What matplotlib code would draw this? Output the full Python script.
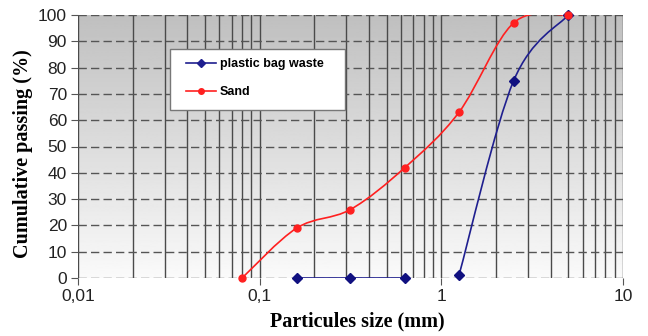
import numpy as np
import matplotlib
matplotlib.use('Agg')
import matplotlib.pyplot as plt
from matplotlib.path import Path
from matplotlib.patches import PathPatch, Rectangle
from matplotlib.lines import Line2D

# sieve sizes (mm) and cumulative passing (%)
plastic_size = [0.16, 0.315, 0.63, 1.25, 2.5, 5.0]
plastic_pass = [0, 0, 0, 1, 75, 100]
sand_size = [0.08, 0.16, 0.315, 0.63, 1.25, 2.5, 5.0]
sand_pass = [0, 19, 26, 42, 63, 97, 100]

xticks = [0.01, 0.1, 1, 10]
xticklabels = ['0,01', '0,1', '1', '10']
yticks = list(range(0, 101, 10))


def smooth_path(xs, ys):
    # excel-like smoothed line: bezier segments, controls from neighbours (log x)
    lx = np.log10(xs)
    ys = np.asarray(ys, float)
    n = len(lx)
    verts = [(xs[0], ys[0])]
    codes = [Path.MOVETO]
    for i in range(n - 1):
        i0, i3 = max(i - 1, 0), min(i + 2, n - 1)
        c1 = (lx[i] + (lx[i + 1] - lx[i0]) / 6, ys[i] + (ys[i + 1] - ys[i0]) / 6)
        c2 = (lx[i + 1] - (lx[i3] - lx[i]) / 6, ys[i + 1] - (ys[i3] - ys[i]) / 6)
        verts += [(10 ** c1[0], c1[1]), (10 ** c2[0], c2[1]), (xs[i + 1], ys[i + 1])]
        codes += [Path.CURVE4] * 3
    return Path(verts, codes)


fig = plt.figure(figsize=(6.48, 3.36), dpi=100)
ax = fig.add_axes([78/648, 1-278/336, 545/648, 263/336])
ax.set_xscale('log')
ax.set_xlim(0.01, 10)
ax.set_ylim(0, 100)

# grey gradient background
grad = np.linspace(0.98, 0.75, 256).reshape(-1, 1)
ax.imshow(grad, cmap='gray', vmin=0, vmax=1, aspect='auto', extent=[0, 1, 0, 1],
          transform=ax.transAxes, zorder=0, origin='lower')

ax.set_xticks(xticks)
ax.set_xticklabels(xticklabels)
ax.set_yticks(yticks)
ax.grid(True, which='both', axis='x', color='#4a4a4a', lw=1.0, ls='-', zorder=1)
ax.grid(True, which='major', axis='y', color='#555555', lw=1.0, ls=(0, (6, 3)), zorder=1)
ax.set_axisbelow(True)
for s in ax.spines.values():
    s.set_visible(False)
ax.tick_params(axis='both', which='major', length=5, color='#555555',
               labelsize=12.5, pad=3)
ax.tick_params(axis='x', which='minor', length=0)
for lab in ax.get_xticklabels() + ax.get_yticklabels():
    lab.set_family('Liberation Sans')
    lab.set_color('#222222')

blue = '#1f1f8f'
red = '#ff2020'

# plastic line is not drawn between 0.63 and 1.25
ax.add_patch(PathPatch(smooth_path(plastic_size[:3], plastic_pass[:3]), fill=False,
                       edgecolor=blue, lw=1.2, zorder=3))
ax.add_patch(PathPatch(smooth_path(plastic_size[3:], plastic_pass[3:]), fill=False,
                       edgecolor=blue, lw=1.2, zorder=3))
ax.add_patch(PathPatch(smooth_path(sand_size, sand_pass), fill=False,
                       edgecolor=red, lw=1.2, zorder=3))
ax.plot(plastic_size, plastic_pass, ls='none', marker='D', ms=5, color='#101080',
        zorder=4, clip_on=False)
ax.plot(sand_size, sand_pass, ls='none', marker='o', ms=5, color=red,
        zorder=4, clip_on=False)

ax.set_xlabel('Particules size (mm)', family='Liberation Serif', weight='bold',
              fontsize=14.5)
ax.set_ylabel('Cumulative passing (%)', family='Liberation Serif', weight='bold',
              fontsize=14.5)
ax.xaxis.set_label_coords((357 - 78) / 545, -(311 - 278) / 263)
ax.yaxis.set_label_coords(-(78 - 33) / 545, (278 - 154) / 263)

# legend box
x0 = (170 - 78) / 545
y0 = (278 - 110) / 263
ax.add_patch(Rectangle((x0, y0), 175 / 545, 61 / 263, transform=ax.transAxes,
                       facecolor='white', edgecolor='#777777', lw=1.0, zorder=5))
handles = [Line2D([], [], color=blue, marker='D', ms=4, lw=1.2),
           Line2D([], [], color=red, marker='o', ms=4, lw=1.2)]
leg = ax.legend(handles, ['plastic bag waste', 'Sand'], loc='upper left',
                bbox_to_anchor=((186 - 78) / 545, (278 - 58) / 263), frameon=False,
                prop={'family': 'Liberation Sans', 'weight': 'bold', 'size': 9},
                handlelength=2.4, handletextpad=0.3, labelspacing=1.3,
                borderaxespad=0, borderpad=0)
leg.set_zorder(6)

plt.savefig('out.png', dpi=100)
